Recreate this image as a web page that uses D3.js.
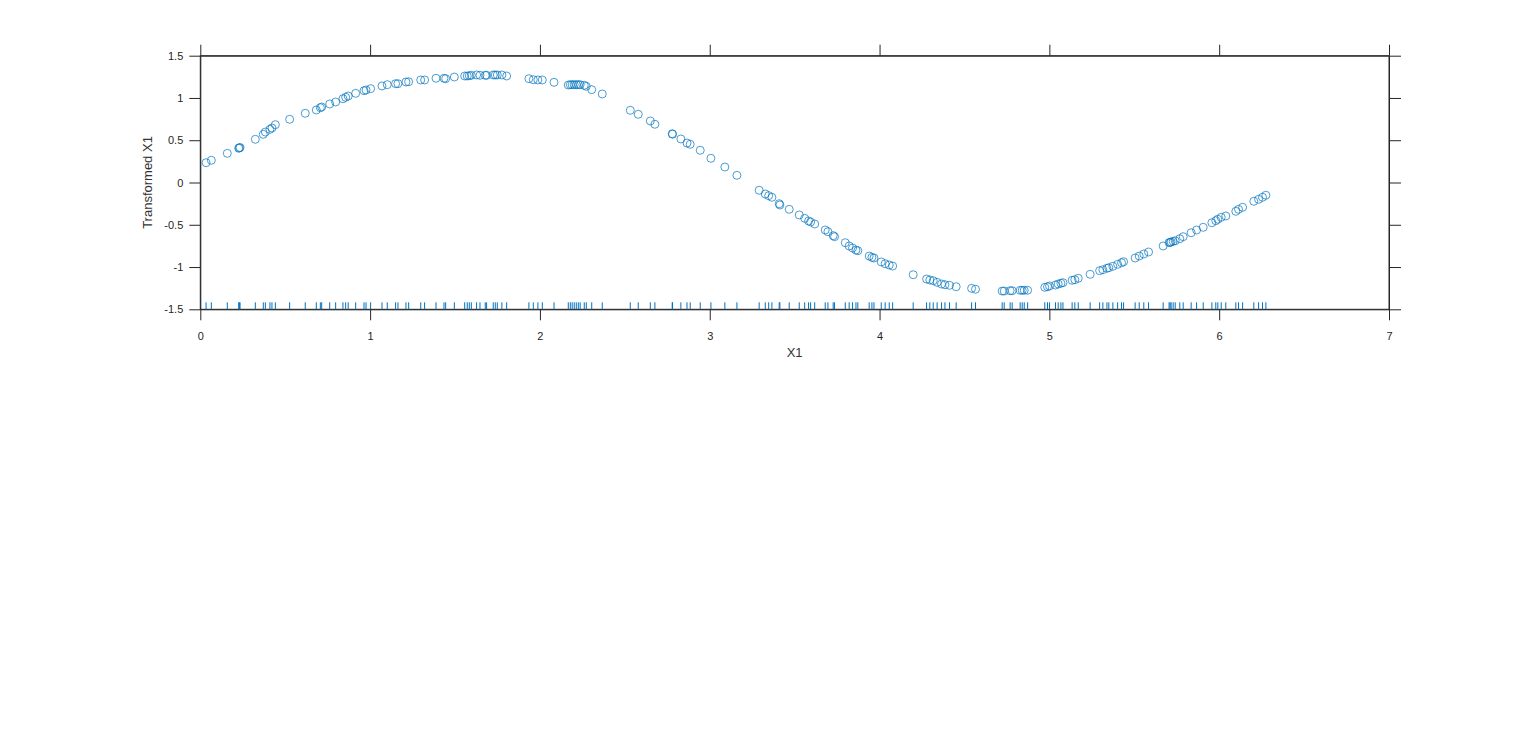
<!DOCTYPE html>
<html>
<head>
<meta charset="utf-8">
<script src="https://cdn.jsdelivr.net/npm/d3@7"></script>
<style>
  html, body { margin: 0; padding: 0; background: #fff; }
  svg { display: block; }
  text { font-family: "Liberation Sans", Arial, Helvetica, sans-serif; fill: #262626; }
</style>
</head>
<body>
<svg id="chart" width="1536" height="744"></svg>
<script>
const xValues = [
  0.034, 0.065, 0.159, 0.226, 0.230, 0.234, 0.324, 0.371, 0.383, 0.410,
  0.422, 0.442, 0.526, 0.618, 0.683, 0.707, 0.715, 0.762, 0.797, 0.840,
  0.856, 0.871, 0.915, 0.964, 0.976, 1.003, 1.070, 1.101, 1.150, 1.164,
  1.211, 1.227, 1.298, 1.321, 1.388, 1.435, 1.445, 1.496, 1.557, 1.572,
  1.584, 1.596, 1.627, 1.647, 1.678, 1.686, 1.725, 1.737, 1.749, 1.776,
  1.804, 1.935, 1.961, 1.988, 2.014, 2.083, 2.167, 2.179, 2.190, 2.202,
  2.214, 2.226, 2.237, 2.261, 2.273, 2.305, 2.367, 2.532, 2.579, 2.650,
  2.677, 2.779, 2.781, 2.830, 2.866, 2.885, 2.944, 3.007, 3.089, 3.160,
  3.291, 3.327, 3.347, 3.366, 3.409, 3.413, 3.468, 3.527, 3.559, 3.582,
  3.594, 3.618, 3.680, 3.696, 3.727, 3.735, 3.798, 3.821, 3.841, 3.861,
  3.872, 3.939, 3.955, 3.967, 4.010, 4.033, 4.057, 4.077, 4.198, 4.277,
  4.296, 4.316, 4.339, 4.365, 4.385, 4.412, 4.451, 4.542, 4.565, 4.722,
  4.734, 4.769, 4.781, 4.828, 4.840, 4.852, 4.872, 4.973, 4.989, 5.001,
  5.036, 5.052, 5.068, 5.080, 5.134, 5.150, 5.170, 5.240, 5.296, 5.315,
  5.339, 5.350, 5.374, 5.402, 5.425, 5.437, 5.505, 5.529, 5.556, 5.584,
  5.670, 5.705, 5.711, 5.717, 5.729, 5.741, 5.768, 5.788, 5.835, 5.867,
  5.906, 5.957, 5.980, 5.992, 6.012, 6.039, 6.098, 6.114, 6.138, 6.204,
  6.232, 6.255, 6.275
];
const yValues = [
  0.234, 0.263, 0.345, 0.405, 0.410, 0.414, 0.511, 0.570, 0.597, 0.629,
  0.645, 0.684, 0.748, 0.819, 0.858, 0.885, 0.893, 0.929, 0.952, 0.991,
  1.008, 1.023, 1.055, 1.086, 1.094, 1.110, 1.142, 1.157, 1.169, 1.169,
  1.189, 1.192, 1.213, 1.213, 1.233, 1.233, 1.228, 1.248, 1.260, 1.260,
  1.263, 1.268, 1.272, 1.268, 1.268, 1.268, 1.272, 1.272, 1.272, 1.272,
  1.260, 1.228, 1.216, 1.213, 1.213, 1.185, 1.153, 1.157, 1.157, 1.157,
  1.157, 1.157, 1.157, 1.150, 1.138, 1.098, 1.047, 0.854, 0.807, 0.728,
  0.689, 0.577, 0.571, 0.515, 0.467, 0.452, 0.381, 0.286, 0.183, 0.085,
  -0.092, -0.136, -0.156, -0.175, -0.251, -0.266, -0.317, -0.384, -0.424, -0.455,
  -0.467, -0.491, -0.562, -0.582, -0.629, -0.641, -0.712, -0.751, -0.775, -0.799,
  -0.807, -0.870, -0.885, -0.893, -0.940, -0.961, -0.976, -0.988, -1.091, -1.142,
  -1.153, -1.162, -1.181, -1.201, -1.209, -1.216, -1.233, -1.252, -1.263, -1.284,
  -1.284, -1.280, -1.280, -1.275, -1.275, -1.275, -1.275, -1.240, -1.233, -1.224,
  -1.213, -1.201, -1.192, -1.185, -1.157, -1.150, -1.133, -1.086, -1.043, -1.032,
  -1.015, -1.008, -0.991, -0.968, -0.949, -0.937, -0.893, -0.870, -0.846, -0.822,
  -0.751, -0.712, -0.708, -0.704, -0.696, -0.689, -0.665, -0.641, -0.594, -0.562,
  -0.530, -0.476, -0.452, -0.435, -0.412, -0.396, -0.341, -0.317, -0.293, -0.222,
  -0.199, -0.175, -0.151
];
const xTicks = [0, 1, 2, 3, 4, 5, 6, 7];
const yTicks = [-1.5, -1, -0.5, 0, 0.5, 1, 1.5];
const xLabel = "X1";
const yLabel = "Transformed X1";

const points = xValues.map((x, i) => ({ x, y: yValues[i] }));

const svg = d3.select("#chart");
const mLeft = 200.3, mRight = 1389, mTop = 55.7, mBottom = 309.3;
const color = "#0072BD";
const axisColor = "#262626";
const textColor = "#333333";

const x = d3.scaleLinear().domain([0, 7]).range([mLeft, mRight]);
const y = d3.scaleLinear().domain([-1.5, 1.5]).range([mBottom, mTop]);

// Frame
svg.append("rect")
  .attr("x", mLeft).attr("y", mTop)
  .attr("width", mRight - mLeft).attr("height", mBottom - mTop)
  .attr("fill", "none").attr("stroke", axisColor).attr("stroke-width", 1);

function styleAxis(g) {
  g.selectAll("path").attr("stroke", axisColor).attr("stroke-width", 1);
  g.selectAll("line").attr("stroke", axisColor).attr("stroke-width", 1);
  g.selectAll("text").attr("fill", textColor)
    .style("font-family", "'Liberation Sans', Arial, sans-serif")
    .style("font-size", "11px");
}

const gB = svg.append("g").attr("transform", `translate(0,${mBottom})`)
  .call(d3.axisBottom(x).tickValues(xTicks).tickSize(11).tickPadding(12).tickSizeOuter(0)
    .tickFormat(d3.format("d")));
styleAxis(gB);
const gT = svg.append("g").attr("transform", `translate(0,${mTop})`)
  .call(d3.axisTop(x).tickValues(xTicks).tickSize(11).tickSizeOuter(0).tickFormat(""));
styleAxis(gT);
const gL = svg.append("g").attr("transform", `translate(${mLeft},0)`)
  .call(d3.axisLeft(y).tickValues(yTicks).tickSize(11).tickPadding(6).tickSizeOuter(0)
    .tickFormat(d => String(d)));
styleAxis(gL);
const gR = svg.append("g").attr("transform", `translate(${mRight},0)`)
  .call(d3.axisRight(y).tickValues(yTicks).tickSize(12).tickSizeOuter(0).tickFormat(""));
styleAxis(gR);

// Rug
svg.append("g").selectAll("line").data(points).join("line")
  .attr("x1", d => x(d.x)).attr("x2", d => x(d.x))
  .attr("y1", y(-1.5)).attr("y2", y(-1.5) - 7)
  .attr("stroke", color).attr("stroke-width", 1);

// Points
svg.append("g").selectAll("circle").data(points).join("circle")
  .attr("cx", d => x(d.x)).attr("cy", d => y(d.y)).attr("r", 4)
  .attr("fill", "none").attr("stroke", color).attr("stroke-width", 0.7);

// Axis labels
svg.append("text").attr("x", (mLeft + mRight) / 2).attr("y", 357)
  .attr("text-anchor", "middle").style("font-size", "13px").style("fill", textColor).text(xLabel);
svg.append("text")
  .attr("transform", `translate(152,${(mTop + mBottom) / 2}) rotate(-90)`)
  .attr("text-anchor", "middle").style("font-size", "13px").style("fill", textColor).text(yLabel);
</script>
</body>
</html>
